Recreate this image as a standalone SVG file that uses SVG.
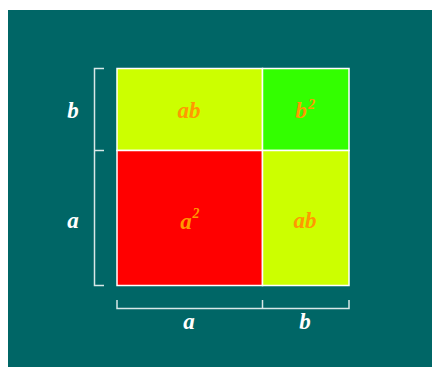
<svg xmlns="http://www.w3.org/2000/svg" width="432" height="367" viewBox="0 0 432 367">
<style>
.cell{stroke:#ffffff;stroke-width:1.5}
.lbl{font-family:"Liberation Serif",serif;font-style:italic;font-weight:bold;font-size:23px;text-anchor:middle}
.w{fill:#ffffff}
.o{fill:#ff9900}
.sup{font-size:14px}
.br{fill:none;stroke:#d8e8e8;stroke-width:1.5}
</style>
<rect x="0" y="0" width="432" height="367" fill="#ffffff"/>
<rect x="8" y="10" width="424" height="357" fill="#006666"/>
<g id="cell-ab-top"><rect class="cell" x="117" y="68.5" width="145.5" height="82" fill="#ccff00"/><text class="lbl o" x="189" y="118">ab</text></g>
<g id="cell-b2"><rect class="cell" x="262.5" y="68.5" width="86.5" height="82" fill="#33ff00"/><text class="lbl o" x="301" y="118">b</text><text class="lbl o sup" x="311.5" y="109">2</text></g>
<g id="cell-a2"><rect class="cell" x="117" y="150.5" width="145.5" height="135" fill="#ff0000"/><text class="lbl o" x="186" y="229">a</text><text class="lbl o sup" x="196" y="218">2</text></g>
<g id="cell-ab-right"><rect class="cell" x="262.5" y="150.5" width="86.5" height="135" fill="#ccff00"/><text class="lbl o" x="305" y="228">ab</text></g>
<g id="connectors">
<path class="br" d="M104,68.5 H94.5 V285.5 H104 M94.5,150.5 H104"/>
<path class="br" d="M117,300 V308.5 H349 V300 M262.5,300 V308.5"/>
</g>
<g id="label-left-b"><text class="lbl w" x="73" y="118">b</text></g>
<g id="label-left-a"><text class="lbl w" x="73" y="228">a</text></g>
<g id="label-bottom-a"><text class="lbl w" x="189" y="329">a</text></g>
<g id="label-bottom-b"><text class="lbl w" x="305" y="329">b</text></g>
</svg>
